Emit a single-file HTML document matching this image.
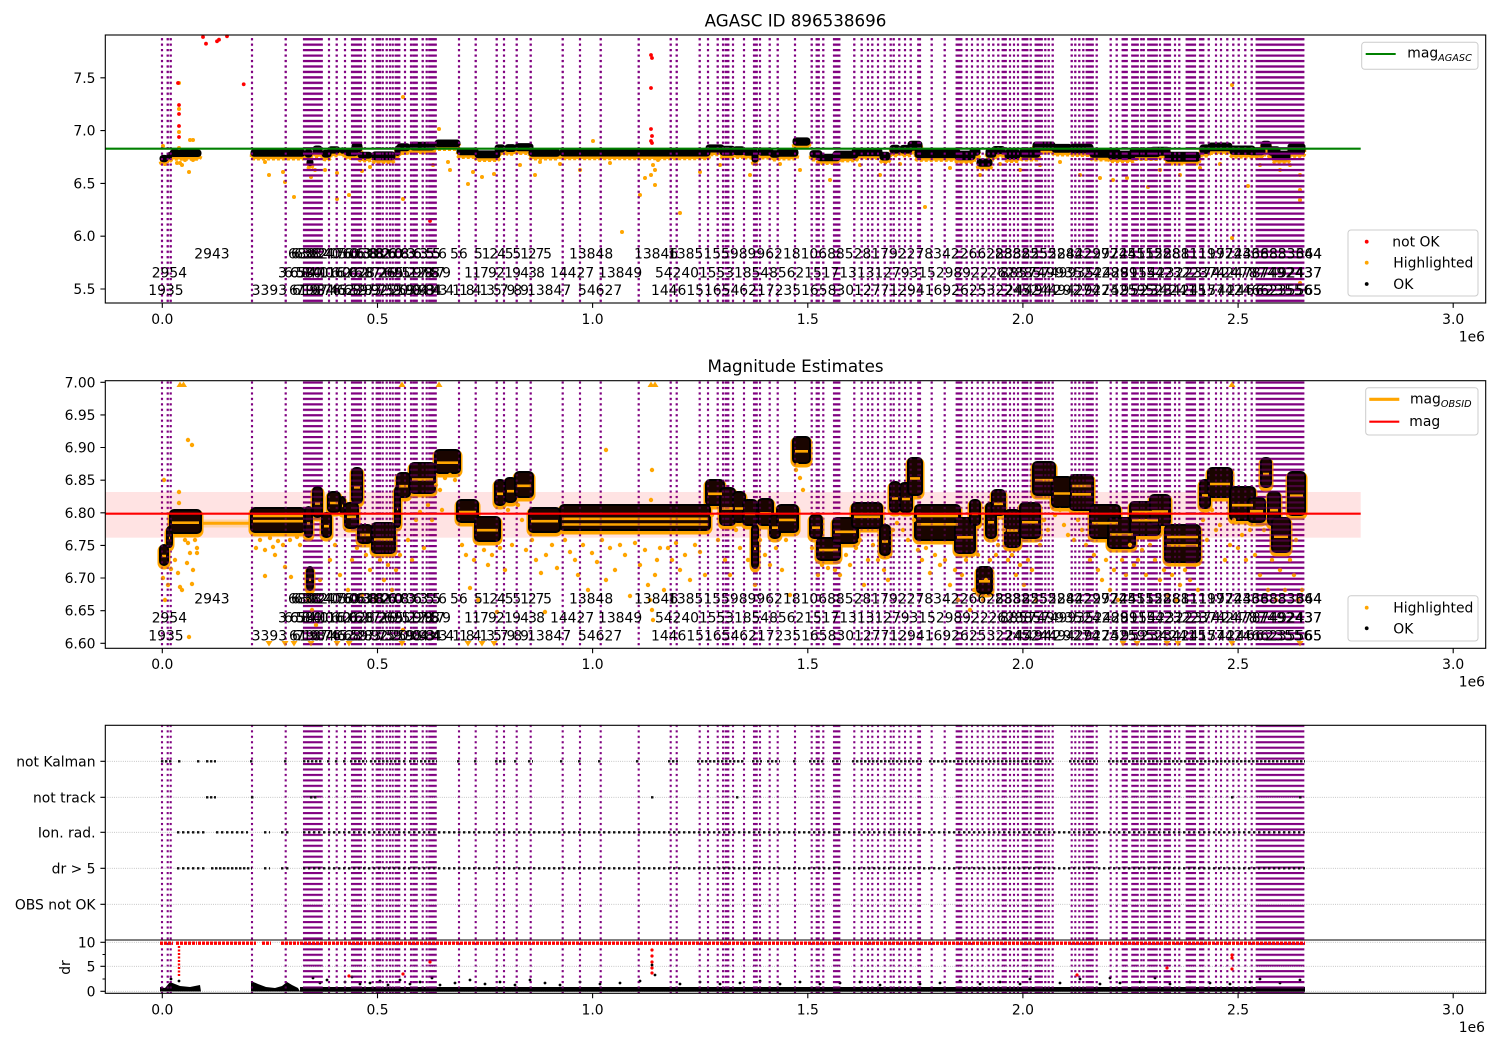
<!DOCTYPE html>
<html><head><meta charset="utf-8"><style>
html,body{margin:0;padding:0;background:#fff}
svg{display:block}
text{font-family:"DejaVu Sans","Liberation Sans",sans-serif;font-size:13.9px;fill:#000}
.tt{font-size:16.7px}
.sub{font-size:9.7px;font-style:italic}
#mb rect{rx:4px;ry:4px}
#tb rect{rx:3px;ry:3px}
</style></head><body>
<svg width="1500" height="1050" viewBox="0 0 1500 1050" xmlns="http://www.w3.org/2000/svg">
<defs>
<pattern id="pd" patternUnits="userSpaceOnUse" width="8" height="5.45"><rect width="8" height="2.1" fill="#800080"/></pattern>
<clipPath id="cpT"><rect x="105.3" y="35" width="1380.4" height="268"/></clipPath>
<clipPath id="cpM"><rect x="105.3" y="380.7" width="1380.4" height="267.6"/></clipPath>
<clipPath id="cpD"><rect x="105.3" y="976" width="1380.4" height="17.3"/></clipPath>
<path id="vl" d="M160.95 35h2.1V993.3h-2.1zM166.65 35h2.1V993.3h-2.1zM169.65 35h2.1V993.3h-2.1zM250.95 35h2.1V993.3h-2.1zM284.65 35h2.1V993.3h-2.1zM327.95 35h2.1V993.3h-2.1zM335.65 35h2.1V993.3h-2.1zM343.95 35h2.1V993.3h-2.1zM363.95 35h2.1V993.3h-2.1zM371.65 35h2.1V993.3h-2.1zM381.65 35h2.1V993.3h-2.1zM385.65 35h2.1V993.3h-2.1zM388.95 35h2.1V993.3h-2.1zM391.65 35h2.1V993.3h-2.1zM403.95 35h2.1V993.3h-2.1zM409.95 35h2.1V993.3h-2.1zM421.65 35h2.1V993.3h-2.1zM425.65 35h2.1V993.3h-2.1zM457.95 35h2.1V993.3h-2.1zM474.65 35h2.1V993.3h-2.1zM495.65 35h2.1V993.3h-2.1zM502.95 35h2.1V993.3h-2.1zM515.65 35h2.1V993.3h-2.1zM529.65 35h2.1V993.3h-2.1zM561.65 35h2.1V993.3h-2.1zM578.95 35h2.1V993.3h-2.1zM599.65 35h2.1V993.3h-2.1zM637.65 35h2.1V993.3h-2.1zM669.65 35h2.1V993.3h-2.1zM675.65 35h2.1V993.3h-2.1zM698.65 35h2.1V993.3h-2.1zM706.95 35h2.1V993.3h-2.1zM716.65 35h2.1V993.3h-2.1zM721.95 35h2.1V993.3h-2.1zM731.95 35h2.1V993.3h-2.1zM742.95 35h2.1V993.3h-2.1zM758.95 35h2.1V993.3h-2.1zM768.65 35h2.1V993.3h-2.1zM776.65 35h2.1V993.3h-2.1zM793.95 35h2.1V993.3h-2.1zM810.65 35h2.1V993.3h-2.1zM822.25 35h2.1V993.3h-2.1zM853.25 35h2.1V993.3h-2.1zM860.65 35h2.1V993.3h-2.1zM866.95 35h2.1V993.3h-2.1zM871.25 35h2.1V993.3h-2.1zM876.95 35h2.1V993.3h-2.1zM883.65 35h2.1V993.3h-2.1zM889.65 35h2.1V993.3h-2.1zM892.65 35h2.1V993.3h-2.1zM898.25 35h2.1V993.3h-2.1zM903.95 35h2.1V993.3h-2.1zM909.65 35h2.1V993.3h-2.1zM930.65 35h2.1V993.3h-2.1zM943.65 35h2.1V993.3h-2.1zM965.65 35h2.1V993.3h-2.1zM970.95 35h2.1V993.3h-2.1zM976.65 35h2.1V993.3h-2.1zM981.65 35h2.1V993.3h-2.1zM987.65 35h2.1V993.3h-2.1zM992.25 35h2.1V993.3h-2.1zM997.25 35h2.1V993.3h-2.1zM1008.95 35h2.1V993.3h-2.1zM1012.95 35h2.1V993.3h-2.1zM1016.95 35h2.1V993.3h-2.1zM1029.65 35h2.1V993.3h-2.1zM1040.65 35h2.1V993.3h-2.1zM1044.25 35h2.1V993.3h-2.1zM1047.65 35h2.1V993.3h-2.1zM1051.65 35h2.1V993.3h-2.1zM1070.65 35h2.1V993.3h-2.1zM1074.25 35h2.1V993.3h-2.1zM1078.25 35h2.1V993.3h-2.1zM1082.25 35h2.1V993.3h-2.1zM1095.65 35h2.1V993.3h-2.1zM1109.65 35h2.1V993.3h-2.1zM1115.65 35h2.1V993.3h-2.1zM1140.25 35h2.1V993.3h-2.1zM1142.65 35h2.1V993.3h-2.1zM1158.95 35h2.1V993.3h-2.1zM1173.95 35h2.1V993.3h-2.1zM1178.25 35h2.1V993.3h-2.1zM1207.65 35h2.1V993.3h-2.1zM1214.95 35h2.1V993.3h-2.1zM1219.95 35h2.1V993.3h-2.1zM1226.25 35h2.1V993.3h-2.1zM1232.25 35h2.1V993.3h-2.1zM1237.65 35h2.1V993.3h-2.1zM1244.25 35h2.1V993.3h-2.1zM1250.65 35h2.1V993.3h-2.1z
M302.95 35H322.75V993.3H302.95zM350.95 35H362.05V993.3H350.95zM375.65 35H381.05V993.3H375.65zM394.65 35H400.35V993.3H394.65zM412.25 35H417.75V993.3H412.25zM428.25 35H436.75V993.3H428.25zM724.65 35H729.35V993.3H724.65zM752.95 35H757.75V993.3H752.95zM815.65 35H819.75V993.3H815.65zM832.95 35H840.35V993.3H832.95zM917.25 35H921.05V993.3H917.25zM955.65 35H962.35V993.3H955.65zM1001.65 35H1006.75V993.3H1001.65zM1021.65 35H1028.35V993.3H1021.65zM1034.65 35H1041.05V993.3H1034.65zM1085.65 35H1093.75V993.3H1085.65zM1121.65 35H1127.75V993.3H1121.65zM1131.25 35H1138.75V993.3H1131.25zM1147.25 35H1157.75V993.3H1147.25zM1163.65 35H1171.05V993.3H1163.65zM1185.65 35H1196.05V993.3H1185.65zM1198.95 35H1204.35V993.3H1198.95zM1255.65 35H1304.35V993.3H1255.65z"/>
<g id="mb">
<rect x="160" y="545" width="8" height="20"/><rect x="167" y="527" width="5" height="20"/><rect x="170" y="510" width="31" height="23"/>
<rect x="251" y="508" width="54" height="24"/><rect x="305" y="507" width="7" height="30"/><rect x="307" y="567" width="6" height="23"/>
<rect x="313" y="487" width="9" height="30"/><rect x="322" y="513" width="9" height="24"/><rect x="328" y="492" width="12" height="20"/>
<rect x="340" y="497" width="5" height="16"/><rect x="345" y="503" width="13" height="25"/><rect x="352" y="468" width="10" height="35"/>
<rect x="358" y="525" width="14" height="18"/><rect x="372" y="523" width="23" height="30"/><rect x="395" y="487" width="5" height="40"/>
<rect x="397" y="473" width="13" height="24"/><rect x="410" y="463" width="25" height="30"/><rect x="435" y="450" width="25" height="23"/>
<rect x="457" y="500" width="21" height="22"/><rect x="475" y="517" width="25" height="24"/><rect x="495" y="480" width="10" height="25"/>
<rect x="505" y="478" width="11" height="24"/><rect x="515" y="472" width="18" height="25"/><rect x="529" y="508" width="31" height="24"/>
<rect x="560" y="505" width="150" height="25"/><rect x="706" y="480" width="18" height="25"/><rect x="720" y="488" width="15" height="37"/>
<rect x="733" y="492" width="12" height="30"/><rect x="743" y="500" width="14" height="25"/><rect x="752" y="525" width="6" height="43"/>
<rect x="758" y="499" width="15" height="26"/><rect x="770" y="515" width="10" height="23"/><rect x="777" y="505" width="21" height="27"/>
<rect x="793" y="437" width="17" height="26"/><rect x="810" y="515" width="12" height="23"/><rect x="817" y="538" width="23" height="22"/>
<rect x="833" y="518" width="25" height="25"/><rect x="852" y="503" width="30" height="25"/><rect x="880" y="525" width="10" height="30"/>
<rect x="890" y="482" width="10" height="30"/><rect x="900" y="483" width="12" height="29"/><rect x="908" y="458" width="14" height="37"/>
<rect x="915" y="505" width="45" height="35"/><rect x="955" y="518" width="20" height="35"/><rect x="970" y="500" width="10" height="25"/>
<rect x="977" y="567" width="15" height="26"/><rect x="986" y="503" width="10" height="35"/><rect x="992" y="490" width="13" height="25"/>
<rect x="1005" y="510" width="15" height="37"/><rect x="1020" y="503" width="20" height="35"/><rect x="1033" y="462" width="22" height="33"/>
<rect x="1052" y="477" width="20" height="30"/><rect x="1070" y="475" width="23" height="35"/><rect x="1090" y="505" width="30" height="33"/>
<rect x="1108" y="518" width="27" height="30"/><rect x="1130" y="502" width="30" height="33"/><rect x="1150" y="495" width="20" height="30"/>
<rect x="1165" y="525" width="35" height="37"/><rect x="1200" y="480" width="10" height="28"/><rect x="1208" y="468" width="24" height="29"/>
<rect x="1230" y="487" width="25" height="33"/><rect x="1248" y="498" width="17" height="24"/><rect x="1261" y="458" width="10" height="29"/>
<rect x="1268" y="492" width="12" height="33"/><rect x="1272" y="518" width="18" height="34"/><rect x="1288" y="472" width="17" height="43"/>
</g>
<g id="tb">
<rect x="160" y="155.4" width="8" height="6.3"/><rect x="167" y="152.5" width="5" height="6.2"/><rect x="170" y="149.8" width="31" height="6.7"/>
<rect x="251" y="149.5" width="54" height="6.8"/><rect x="305" y="149.3" width="7" height="7.8"/><rect x="307" y="159" width="6" height="6.7"/>
<rect x="313" y="146" width="9" height="7.9"/><rect x="322" y="150.2" width="9" height="6.9"/><rect x="328" y="146.8" width="12" height="6.3"/>
<rect x="340" y="147.7" width="5" height="5.5"/><rect x="345" y="148.6" width="13" height="7.1"/><rect x="352" y="143" width="10" height="8.6"/>
<rect x="358" y="152.2" width="14" height="5.9"/><rect x="372" y="151.9" width="23" height="7.8"/><rect x="395" y="146" width="5" height="9.5"/>
<rect x="397" y="143.8" width="13" height="6.9"/><rect x="410" y="142.2" width="25" height="7.8"/><rect x="435" y="140" width="25" height="6.8"/>
<rect x="457" y="148.1" width="21" height="6.6"/><rect x="475" y="150.9" width="25" height="6.9"/><rect x="495" y="144.9" width="10" height="7.1"/>
<rect x="505" y="144.6" width="11" height="6.9"/><rect x="515" y="143.6" width="18" height="7.1"/><rect x="529" y="149.5" width="31" height="6.8"/>
<rect x="560" y="149" width="150" height="7"/><rect x="706" y="144.9" width="18" height="7.1"/><rect x="720" y="146.2" width="15" height="9"/>
<rect x="733" y="146.8" width="12" height="7.9"/><rect x="743" y="148.1" width="14" height="7.1"/><rect x="752" y="152.2" width="6" height="9.9"/>
<rect x="758" y="148" width="15" height="7.2"/><rect x="770" y="150.6" width="10" height="6.7"/><rect x="777" y="149" width="21" height="7.3"/>
<rect x="793" y="137.9" width="17" height="7.3"/><rect x="810" y="150.6" width="12" height="6.7"/><rect x="817" y="154.3" width="23" height="6.5"/>
<rect x="833" y="151.1" width="25" height="7"/><rect x="852" y="148.6" width="30" height="7.1"/><rect x="880" y="152.2" width="10" height="7.8"/>
<rect x="890" y="145.2" width="10" height="7.9"/><rect x="900" y="145.4" width="12" height="7.7"/><rect x="908" y="141.3" width="14" height="9"/>
<rect x="915" y="149" width="45" height="8.6"/><rect x="955" y="151.1" width="20" height="8.6"/><rect x="970" y="148.1" width="10" height="7.1"/>
<rect x="977" y="159" width="15" height="7.2"/><rect x="986" y="148.6" width="10" height="8.7"/><rect x="992" y="146.5" width="13" height="7.1"/>
<rect x="1005" y="149.8" width="15" height="8.9"/><rect x="1020" y="148.6" width="20" height="8.7"/><rect x="1033" y="142" width="22" height="8.3"/>
<rect x="1052" y="144.4" width="20" height="7.9"/><rect x="1070" y="144.1" width="23" height="8.7"/><rect x="1090" y="149" width="30" height="8.3"/>
<rect x="1108" y="151.1" width="27" height="7.8"/><rect x="1130" y="148.4" width="30" height="8.4"/><rect x="1150" y="147.3" width="20" height="7.9"/>
<rect x="1165" y="152.2" width="35" height="9"/><rect x="1200" y="144.9" width="10" height="8.5"/><rect x="1208" y="143" width="24" height="7.7"/>
<rect x="1230" y="146" width="25" height="8.4"/><rect x="1248" y="147.8" width="17" height="6.9"/><rect x="1261" y="141.3" width="10" height="7.7"/>
<rect x="1268" y="146.8" width="12" height="8.4"/><rect x="1272" y="151.1" width="18" height="8.5"/><rect x="1288" y="143.6" width="17" height="10"/>
</g>
</defs>

<rect width="1500" height="1050" fill="#fff"/>

<!-- purple vertical dotted lines (base layer) -->
<use href="#vl" fill="url(#pd)"/>

<!-- gaps between panels -->
<rect x="100" y="303.6" width="1390" height="76.6" fill="#fff"/>
<rect x="100" y="648.8" width="1390" height="76" fill="#fff"/>

<!-- ============ TOP PANEL DATA ============ -->
<use href="#tb" fill="#FFA500" stroke="#FFA500" stroke-width="2.5" stroke-dasharray="3 2" transform="translate(0,3)"/>
<use href="#tb" fill="#000" stroke="#000" stroke-width="1"/>
<g fill="#FFA500">
<circle cx="163" cy="146" r="2"/><circle cx="177" cy="163" r="2"/><circle cx="180" cy="163" r="2"/><circle cx="179" cy="83" r="2"/><circle cx="179" cy="109" r="2"/><circle cx="179" cy="132" r="2"/><circle cx="179" cy="148" r="2"/><circle cx="190" cy="140" r="2"/><circle cx="193" cy="140" r="2"/><circle cx="189" cy="172" r="2"/><circle cx="185" cy="160" r="2"/><circle cx="182" cy="165" r="2"/><circle cx="193" cy="160" r="2"/><circle cx="265" cy="162" r="2"/><circle cx="269" cy="175" r="2"/><circle cx="283" cy="172" r="2"/><circle cx="285" cy="182" r="2"/><circle cx="294" cy="197" r="2"/><circle cx="311" cy="177" r="2"/><circle cx="315" cy="170" r="2"/><circle cx="325" cy="170" r="2"/><circle cx="337" cy="173" r="2"/><circle cx="337" cy="199" r="2"/><circle cx="349" cy="195" r="2"/><circle cx="362" cy="171" r="2"/><circle cx="370" cy="167" r="2"/><circle cx="403" cy="97" r="2"/><circle cx="403" cy="199" r="2"/><circle cx="439" cy="129" r="2"/><circle cx="448" cy="162" r="2"/><circle cx="468" cy="184" r="2"/><circle cx="473" cy="172" r="2"/><circle cx="482" cy="177" r="2"/><circle cx="494" cy="174" r="2"/><circle cx="433" cy="165" r="2"/><circle cx="450" cy="170" r="2"/><circle cx="593" cy="141" r="2"/><circle cx="622" cy="232" r="2"/><circle cx="645" cy="178" r="2"/><circle cx="655" cy="185" r="2"/><circle cx="680" cy="213" r="2"/><circle cx="520" cy="165" r="2"/><circle cx="540" cy="162" r="2"/><circle cx="560" cy="164" r="2"/><circle cx="580" cy="170" r="2"/><circle cx="610" cy="163" r="2"/><circle cx="700" cy="172" r="2"/><circle cx="720" cy="165" r="2"/><circle cx="750" cy="175" r="2"/><circle cx="780" cy="164" r="2"/><circle cx="800" cy="170" r="2"/><circle cx="830" cy="180" r="2"/><circle cx="860" cy="165" r="2"/><circle cx="880" cy="175" r="2"/><circle cx="900" cy="164" r="2"/><circle cx="925" cy="207" r="2"/><circle cx="950" cy="168" r="2"/><circle cx="980" cy="175" r="2"/><circle cx="1000" cy="164" r="2"/><circle cx="1020" cy="170" r="2"/><circle cx="1040" cy="165" r="2"/><circle cx="1060" cy="162" r="2"/><circle cx="1080" cy="175" r="2"/><circle cx="1100" cy="178" r="2"/><circle cx="1113" cy="180" r="2"/><circle cx="1127" cy="178" r="2"/><circle cx="1148" cy="187" r="2"/><circle cx="1160" cy="170" r="2"/><circle cx="1180" cy="175" r="2"/><circle cx="1200" cy="168" r="2"/><circle cx="1220" cy="164" r="2"/><circle cx="1232" cy="85" r="2"/><circle cx="1232" cy="238" r="2"/><circle cx="1248" cy="186" r="2"/><circle cx="1260" cy="165" r="2"/><circle cx="1280" cy="170" r="2"/><circle cx="1300" cy="175" r="2"/><circle cx="1300" cy="190" r="2"/><circle cx="1300" cy="200" r="2"/><circle cx="1300" cy="283" r="2"/><circle cx="1290" cy="165" r="2"/>
<circle cx="653" cy="165" r="2"/><circle cx="655" cy="170" r="2"/><circle cx="651" cy="175" r="2"/><circle cx="658" cy="160" r="2"/><circle cx="535" cy="175" r="2"/><circle cx="640" cy="195" r="2"/>
</g>
<g fill="#FF0000">
<circle cx="178" cy="83" r="1.9"/><circle cx="179" cy="105" r="1.9"/><circle cx="179" cy="114" r="1.9"/><circle cx="179" cy="126" r="1.9"/><circle cx="179" cy="137" r="1.9"/><circle cx="203" cy="37" r="1.9"/><circle cx="206" cy="43.7" r="1.9"/><circle cx="217" cy="41.3" r="1.9"/><circle cx="219" cy="39.7" r="1.9"/><circle cx="227" cy="36.3" r="1.9"/><circle cx="243.7" cy="84.3" r="1.9"/><circle cx="430" cy="221" r="1.9"/><circle cx="651" cy="55" r="1.9"/><circle cx="652" cy="58" r="1.9"/><circle cx="651" cy="88" r="1.9"/><circle cx="651" cy="129" r="1.9"/><circle cx="652" cy="136" r="1.9"/><circle cx="651" cy="141" r="1.9"/><circle cx="652" cy="143" r="1.9"/>
</g>
<use href="#vl" fill="url(#pd)" clip-path="url(#cpT)"/>
<line x1="105.3" y1="148.7" x2="1360.7" y2="148.7" stroke="#008000" stroke-width="2.1"/>

<!-- ============ MIDDLE PANEL DATA ============ -->
<rect x="105.3" y="492" width="1255.4" height="45.7" fill="rgba(255,0,0,0.11)"/>
<rect x="201" y="519.5" width="51" height="8" fill="rgba(255,165,0,0.25)"/>
<line x1="201" y1="523.3" x2="252" y2="523.3" stroke="#FFA500" stroke-width="3"/>
<use href="#mb" fill="#FFA500" stroke="#FFA500" stroke-width="5" transform="translate(0,2)"/>
<use href="#mb" fill="#1a0500" stroke="#000" stroke-width="2"/>
<path fill="none" stroke="#FFA500" stroke-width="2.6" d="M162 556H166M169 538H170M172 522.7H199M253 521.2H303M253 516H303M307 523.5H310M309 579.7H311M315 503.5H320M324 526.2H329M330 503H338M342 505.8H343M347 516.8H356M354 487.3H360M360 534.9H370M374 539.5H393M397 509H398M399 486.2H408M412 479.5H433M437 462.7H458M459 512.1H476M477 530.2H498M497 493.8H503M507 491.2H514M517 485.8H531M531 521.2H558M562 518.8H708M562 524.5H708M708 493.8H722M722 508.4H733M735 508.5H743M745 513.8H755M754 548.7H756M760 513.3H771M772 527.7H778M779 519.9H796M795 451.3H808M812 527.7H820M819 550.1H838M835 531.8H856M854 516.8H880M882 541.5H888M892 498.5H898M902 499H910M910 478.4H920M917 524.3H958M917 516H958M957 537.3H973M972 513.8H978M979 581.3H990M988 522.3H994M994 503.8H1003M1007 530.4H1018M1022 522.3H1038M1035 480.2H1053M1054 493.5H1070M1072 494.3H1091M1072 486H1091M1092 523.2H1118M1110 534.5H1133M1132 520.2H1158M1132 512H1158M1152 511.5H1168M1167 545.4H1198M1167 537H1198M1202 495.4H1208M1210 484H1230M1232 505.2H1253M1250 511.2H1263M1263 474H1269M1270 510.2H1278M1274 536.7H1288M1290 495.7H1303"/>
<g fill="#FFA500">
<circle cx="163" cy="578" r="2.2"/><circle cx="168" cy="585" r="2.2"/><circle cx="171" cy="569" r="2.2"/><circle cx="178" cy="573" r="2.2"/><circle cx="180" cy="587" r="2.2"/><circle cx="182" cy="590" r="2.2"/><circle cx="179" cy="503" r="2.2"/><circle cx="179" cy="492" r="2.2"/><circle cx="188" cy="543" r="2.2"/><circle cx="190" cy="553" r="2.2"/><circle cx="192" cy="584" r="2.2"/><circle cx="188" cy="440" r="2.2"/><circle cx="192" cy="445" r="2.2"/><circle cx="187" cy="563" r="2.2"/><circle cx="193" cy="570" r="2.2"/><circle cx="197" cy="548" r="2.2"/><circle cx="197" cy="553" r="2.2"/><circle cx="189" cy="637" r="2.2"/><circle cx="175" cy="560" r="2.2"/><circle cx="185" cy="540" r="2.2"/><circle cx="195" cy="540" r="2.2"/><circle cx="165" cy="600" r="2.2"/><circle cx="164" cy="480" r="2.2"/>
<circle cx="256" cy="548" r="2.2"/><circle cx="265" cy="550" r="2.2"/><circle cx="273" cy="547" r="2.2"/><circle cx="283" cy="545" r="2.2"/><circle cx="285" cy="567" r="2.2"/><circle cx="291" cy="577" r="2.2"/><circle cx="265" cy="576" r="2.2"/><circle cx="297" cy="537" r="2.2"/><circle cx="260" cy="540" r="2.2"/><circle cx="270" cy="538" r="2.2"/><circle cx="278" cy="541" r="2.2"/><circle cx="290" cy="540" r="2.2"/><circle cx="300" cy="545" r="2.2"/><circle cx="275" cy="555" r="2.2"/>
<circle cx="308" cy="600" r="2.2"/><circle cx="312" cy="610" r="2.2"/><circle cx="316" cy="625" r="2.2"/><circle cx="320" cy="580" r="2.2"/><circle cx="330" cy="560" r="2.2"/><circle cx="335" cy="545" r="2.2"/><circle cx="340" cy="575" r="2.2"/><circle cx="348" cy="590" r="2.2"/><circle cx="352" cy="560" r="2.2"/><circle cx="357" cy="548" r="2.2"/><circle cx="362" cy="595" r="2.2"/><circle cx="366" cy="555" r="2.2"/><circle cx="370" cy="570" r="2.2"/><circle cx="376" cy="600" r="2.2"/><circle cx="380" cy="560" r="2.2"/><circle cx="384" cy="580" r="2.2"/><circle cx="388" cy="565" r="2.2"/><circle cx="392" cy="590" r="2.2"/><circle cx="396" cy="570" r="2.2"/><circle cx="400" cy="555" r="2.2"/><circle cx="403" cy="630" r="2.2"/><circle cx="408" cy="540" r="2.2"/><circle cx="412" cy="560" r="2.2"/><circle cx="416" cy="520" r="2.2"/><circle cx="420" cy="512" r="2.2"/><circle cx="424" cy="548" r="2.2"/><circle cx="428" cy="505" r="2.2"/><circle cx="432" cy="520" r="2.2"/><circle cx="436" cy="485" r="2.2"/><circle cx="440" cy="490" r="2.2"/><circle cx="445" cy="478" r="2.2"/><circle cx="450" cy="475" r="2.2"/><circle cx="455" cy="480" r="2.2"/><circle cx="442" cy="510" r="2.2"/>
<circle cx="462" cy="545" r="2.2"/><circle cx="466" cy="555" r="2.2"/><circle cx="470" cy="588" r="2.2"/><circle cx="474" cy="560" r="2.2"/><circle cx="478" cy="600" r="2.2"/><circle cx="484" cy="550" r="2.2"/><circle cx="488" cy="565" r="2.2"/><circle cx="492" cy="555" r="2.2"/><circle cx="497" cy="612" r="2.2"/><circle cx="500" cy="548" r="2.2"/><circle cx="505" cy="570" r="2.2"/><circle cx="508" cy="510" r="2.2"/><circle cx="512" cy="545" r="2.2"/><circle cx="518" cy="505" r="2.2"/><circle cx="522" cy="520" r="2.2"/><circle cx="526" cy="550" r="2.2"/><circle cx="532" cy="540" r="2.2"/><circle cx="536" cy="560" r="2.2"/><circle cx="541" cy="573" r="2.2"/><circle cx="546" cy="555" r="2.2"/><circle cx="552" cy="545" r="2.2"/><circle cx="557" cy="568" r="2.2"/><circle cx="545" cy="612" r="2.2"/>
<circle cx="565" cy="540" r="2.2"/><circle cx="570" cy="552" r="2.2"/><circle cx="575" cy="560" r="2.2"/><circle cx="578" cy="575" r="2.2"/><circle cx="583" cy="545" r="2.2"/><circle cx="588" cy="590" r="2.2"/><circle cx="592" cy="553" r="2.2"/><circle cx="597" cy="562" r="2.2"/><circle cx="602" cy="540" r="2.2"/><circle cx="606" cy="580" r="2.2"/><circle cx="610" cy="548" r="2.2"/><circle cx="615" cy="570" r="2.2"/><circle cx="620" cy="545" r="2.2"/><circle cx="625" cy="555" r="2.2"/><circle cx="630" cy="596" r="2.2"/><circle cx="635" cy="543" r="2.2"/><circle cx="640" cy="565" r="2.2"/><circle cx="645" cy="550" r="2.2"/><circle cx="648" cy="585" r="2.2"/><circle cx="650" cy="600" r="2.2"/><circle cx="652" cy="610" r="2.2"/><circle cx="653" cy="620" r="2.2"/><circle cx="655" cy="575" r="2.2"/><circle cx="657" cy="560" r="2.2"/><circle cx="660" cy="548" r="2.2"/><circle cx="664" cy="590" r="2.2"/><circle cx="668" cy="548" r="2.2"/><circle cx="672" cy="560" r="2.2"/><circle cx="676" cy="543" r="2.2"/><circle cx="680" cy="570" r="2.2"/><circle cx="685" cy="555" r="2.2"/><circle cx="690" cy="580" r="2.2"/><circle cx="695" cy="545" r="2.2"/><circle cx="700" cy="552" r="2.2"/><circle cx="705" cy="575" r="2.2"/><circle cx="606" cy="450" r="2.2"/><circle cx="652" cy="470" r="2.2"/><circle cx="651" cy="500" r="2.2"/>
<circle cx="712" cy="515" r="2.2"/><circle cx="718" cy="540" r="2.2"/><circle cx="725" cy="560" r="2.2"/><circle cx="730" cy="575" r="2.2"/><circle cx="736" cy="530" r="2.2"/><circle cx="740" cy="548" r="2.2"/><circle cx="748" cy="560" r="2.2"/><circle cx="755" cy="585" r="2.2"/><circle cx="760" cy="540" r="2.2"/><circle cx="765" cy="555" r="2.2"/><circle cx="770" cy="565" r="2.2"/><circle cx="776" cy="548" r="2.2"/><circle cx="782" cy="570" r="2.2"/><circle cx="786" cy="540" r="2.2"/><circle cx="790" cy="595" r="2.2"/><circle cx="796" cy="470" r="2.2"/><circle cx="800" cy="478" r="2.2"/><circle cx="803" cy="490" r="2.2"/><circle cx="797" cy="465" r="2.2"/>
<circle cx="812" cy="548" r="2.2"/><circle cx="818" cy="575" r="2.2"/><circle cx="822" cy="565" r="2.2"/><circle cx="828" cy="568" r="2.2"/><circle cx="835" cy="570" r="2.2"/><circle cx="840" cy="575" r="2.2"/><circle cx="846" cy="555" r="2.2"/><circle cx="850" cy="565" r="2.2"/><circle cx="856" cy="548" r="2.2"/><circle cx="860" cy="540" r="2.2"/><circle cx="864" cy="585" r="2.2"/><circle cx="868" cy="560" r="2.2"/><circle cx="873" cy="545" r="2.2"/><circle cx="878" cy="560" r="2.2"/><circle cx="884" cy="570" r="2.2"/><circle cx="888" cy="580" r="2.2"/><circle cx="893" cy="530" r="2.2"/><circle cx="897" cy="523" r="2.2"/>
<circle cx="903" cy="530" r="2.2"/><circle cx="908" cy="540" r="2.2"/><circle cx="914" cy="520" r="2.2"/><circle cx="918" cy="550" r="2.2"/><circle cx="922" cy="560" r="2.2"/><circle cx="926" cy="548" r="2.2"/><circle cx="930" cy="573" r="2.2"/><circle cx="935" cy="555" r="2.2"/><circle cx="940" cy="565" r="2.2"/><circle cx="945" cy="560" r="2.2"/><circle cx="950" cy="585" r="2.2"/><circle cx="955" cy="570" r="2.2"/><circle cx="958" cy="600" r="2.2"/><circle cx="962" cy="575" r="2.2"/><circle cx="966" cy="560" r="2.2"/><circle cx="970" cy="610" r="2.2"/><circle cx="974" cy="590" r="2.2"/><circle cx="978" cy="555" r="2.2"/><circle cx="983" cy="600" r="2.2"/><circle cx="986" cy="580" r="2.2"/><circle cx="990" cy="560" r="2.2"/><circle cx="996" cy="555" r="2.2"/><circle cx="998" cy="545" r="2.2"/>
<circle cx="1004" cy="530" r="2.2"/><circle cx="1008" cy="560" r="2.2"/><circle cx="1012" cy="555" r="2.2"/><circle cx="1016" cy="575" r="2.2"/><circle cx="1020" cy="565" r="2.2"/><circle cx="1024" cy="585" r="2.2"/><circle cx="1028" cy="560" r="2.2"/><circle cx="1032" cy="570" r="2.2"/><circle cx="1036" cy="600" r="2.2"/><circle cx="1040" cy="545" r="2.2"/><circle cx="1044" cy="520" r="2.2"/><circle cx="1048" cy="530" r="2.2"/><circle cx="1055" cy="515" r="2.2"/><circle cx="1060" cy="510" r="2.2"/><circle cx="1064" cy="525" r="2.2"/><circle cx="1068" cy="535" r="2.2"/><circle cx="1074" cy="540" r="2.2"/><circle cx="1078" cy="520" r="2.2"/><circle cx="1082" cy="530" r="2.2"/><circle cx="1086" cy="545" r="2.2"/><circle cx="1090" cy="560" r="2.2"/><circle cx="1094" cy="555" r="2.2"/><circle cx="1098" cy="570" r="2.2"/><circle cx="1102" cy="580" r="2.2"/><circle cx="1106" cy="560" r="2.2"/><circle cx="1110" cy="590" r="2.2"/><circle cx="1114" cy="570" r="2.2"/><circle cx="1118" cy="600" r="2.2"/>
<circle cx="1122" cy="560" r="2.2"/><circle cx="1126" cy="575" r="2.2"/><circle cx="1130" cy="545" r="2.2"/><circle cx="1134" cy="565" r="2.2"/><circle cx="1138" cy="560" r="2.2"/><circle cx="1142" cy="550" r="2.2"/><circle cx="1146" cy="575" r="2.2"/><circle cx="1150" cy="545" r="2.2"/><circle cx="1155" cy="560" r="2.2"/><circle cx="1160" cy="580" r="2.2"/><circle cx="1164" cy="570" r="2.2"/><circle cx="1168" cy="595" r="2.2"/><circle cx="1172" cy="575" r="2.2"/><circle cx="1176" cy="600" r="2.2"/><circle cx="1180" cy="585" r="2.2"/><circle cx="1185" cy="570" r="2.2"/><circle cx="1190" cy="580" r="2.2"/><circle cx="1195" cy="565" r="2.2"/><circle cx="1198" cy="590" r="2.2"/>
<circle cx="1203" cy="520" r="2.2"/><circle cx="1207" cy="540" r="2.2"/><circle cx="1212" cy="510" r="2.2"/><circle cx="1216" cy="530" r="2.2"/><circle cx="1220" cy="525" r="2.2"/><circle cx="1225" cy="560" r="2.2"/><circle cx="1230" cy="545" r="2.2"/><circle cx="1234" cy="520" r="2.2"/><circle cx="1238" cy="548" r="2.2"/><circle cx="1242" cy="535" r="2.2"/><circle cx="1246" cy="560" r="2.2"/><circle cx="1250" cy="530" r="2.2"/><circle cx="1255" cy="555" r="2.2"/><circle cx="1260" cy="575" r="2.2"/><circle cx="1264" cy="530" r="2.2"/><circle cx="1268" cy="590" r="2.2"/><circle cx="1272" cy="560" r="2.2"/><circle cx="1276" cy="600" r="2.2"/><circle cx="1280" cy="570" r="2.2"/><circle cx="1285" cy="590" r="2.2"/><circle cx="1290" cy="560" r="2.2"/><circle cx="1294" cy="575" r="2.2"/><circle cx="1298" cy="600" r="2.2"/><circle cx="1302" cy="590" r="2.2"/><circle cx="1296" cy="540" r="2.2"/>
</g>
<path fill="#FFA500" d="M176.5 387L180 381.5L183.5 387zM180 387L183.5 381.5L187 387zM398.5 387L402 381.5L405.5 387zM435.5 387L439 381.5L442.5 387zM647.5 387L651 381.5L654.5 387zM651.5 387L655 381.5L658.5 387zM1228.5 387L1232 381.5L1235.5 387z
M265.5 641L272.5 641L269 646.5zM281.5 641L288.5 641L285 646.5zM290.5 641L297.5 641L294 646.5zM307.5 641L314.5 641L311 646.5zM333.5 641L340.5 641L337 646.5zM345.5 641L352.5 641L349 646.5zM398.5 641L405.5 641L402 646.5zM464.5 641L471.5 641L468 646.5zM478.5 641L485.5 641L482 646.5zM490.5 641L497.5 641L494 646.5zM1119.5 641L1126.5 641L1123 646.5zM1133.5 641L1140.5 641L1137 646.5zM1163.5 641L1170.5 641L1167 646.5zM1174.5 641L1181.5 641L1178 646.5zM1228.5 641L1235.5 641L1232 646.5zM1296.5 641L1303.5 641L1300 646.5z"/>
<use href="#vl" fill="url(#pd)" clip-path="url(#cpM)" opacity="0.45"/>
<line x1="105.3" y1="513.7" x2="1360.7" y2="513.7" stroke="#FF0000" stroke-width="2.1"/>

<!-- ============ BOTTOM PANEL ============ -->
<g stroke="#b0b0b0" stroke-width="0.8" stroke-dasharray="0.8 1.4">
<line x1="105.3" y1="761.3" x2="1485.7" y2="761.3"/><line x1="105.3" y1="797.3" x2="1485.7" y2="797.3"/><line x1="105.3" y1="832.3" x2="1485.7" y2="832.3"/><line x1="105.3" y1="868.3" x2="1485.7" y2="868.3"/><line x1="105.3" y1="904.3" x2="1485.7" y2="904.3"/>
<line x1="105.3" y1="942.3" x2="1485.7" y2="942.3"/><line x1="105.3" y1="966.3" x2="1485.7" y2="966.3"/><line x1="105.3" y1="991.3" x2="1485.7" y2="991.3"/>
</g>
<g fill="none" stroke="#111" stroke-width="2.4" stroke-dasharray="2.4 1.6">
<path d="M161 761.3H173M178 761.3H182M197 761.3H201M206 761.3H216M250 761.3H254M284 761.3H288M303 761.3H323M327 761.3H331M335 761.3H339M343 761.3H347M350 761.3H367M370 761.3H401M403 761.3H407M409 761.3H418M420 761.3H437M457 761.3H461M474 761.3H478M495 761.3H506M514 761.3H518M528 761.3H533M560 761.3H564M578 761.3H582M598 761.3H602M636 761.3H640M668 761.3H678M697 761.3H745M752 761.3H762M767 761.3H780M793 761.3H797M809 761.3H825M832 761.3H841M852 761.3H922M929 761.3H1053M1069 761.3H1098M1108 761.3H1305"/>
<path d="M206 797.3H216M251 797.3H254M310 797.3H317M651 797.3H654M736 797.3H740M1231 797.3H1235M1299 797.3H1302"/>
<path d="M211 868.3H252"/>
</g>
<g fill="none" stroke="#111" stroke-width="2.4" stroke-dasharray="2.4 2.6">
<path d="M177 832.3H207M216 832.3H248M264 832.3H270M281 832.3H291M303 832.3H1305"/>
<path d="M177 868.3H207M264 868.3H270M281 868.3H291M303 868.3H1305"/>
</g>
<path fill="none" stroke="#FF0000" stroke-width="3.4" stroke-dasharray="3 1" d="M160 943.2H173M176 943.2H197M198 943.2H256M262 943.2H271M281 943.2H299M300 943.2H1305"/>
<line x1="179" y1="946" x2="179" y2="977" stroke="#FF0000" stroke-width="2.4" stroke-dasharray="2 1.5"/>
<g fill="#FF0000">
<circle cx="652" cy="950" r="1.6"/><circle cx="652" cy="956" r="1.6"/><circle cx="652" cy="962" r="1.6"/><circle cx="652" cy="968" r="1.6"/><circle cx="652" cy="973" r="1.6"/><circle cx="349" cy="976" r="1.6"/><circle cx="403" cy="974" r="1.6"/><circle cx="430" cy="962" r="1.6"/><circle cx="1167" cy="968" r="1.6"/><circle cx="1232" cy="955" r="1.6"/><circle cx="1232" cy="958" r="1.6"/><circle cx="1232" cy="969" r="1.6"/><circle cx="1077" cy="975" r="1.6"/>
</g>
<path fill="#000" d="M160 991.5V987L165 988L170 982L175 984L180 986L190 987L200 985L201 991.5zM251 991.5V981L258 984L266 987L275 988L282 986L287 982L292 985L298 988L300 991.5zM300 987H1305V991.8H300z"/>
<g fill="#000">
<circle cx="313" cy="978" r="1.4"/><circle cx="320" cy="983" r="1.4"/><circle cx="327" cy="980" r="1.4"/><circle cx="345" cy="982" r="1.4"/><circle cx="352" cy="977" r="1.4"/><circle cx="360" cy="984" r="1.4"/><circle cx="370" cy="983" r="1.4"/><circle cx="380" cy="981" r="1.4"/><circle cx="388" cy="985" r="1.4"/><circle cx="400" cy="980" r="1.4"/><circle cx="410" cy="984" r="1.4"/><circle cx="420" cy="982" r="1.4"/><circle cx="432" cy="978" r="1.4"/><circle cx="440" cy="985" r="1.4"/><circle cx="455" cy="983" r="1.4"/><circle cx="470" cy="980" r="1.4"/><circle cx="485" cy="984" r="1.4"/><circle cx="500" cy="982" r="1.4"/><circle cx="515" cy="985" r="1.4"/><circle cx="530" cy="980" r="1.4"/><circle cx="545" cy="983" r="1.4"/><circle cx="560" cy="985" r="1.4"/><circle cx="580" cy="982" r="1.4"/><circle cx="600" cy="984" r="1.4"/><circle cx="620" cy="983" r="1.4"/><circle cx="640" cy="981" r="1.4"/><circle cx="652" cy="965" r="1.4"/><circle cx="655" cy="975" r="1.4"/><circle cx="680" cy="984" r="1.4"/><circle cx="700" cy="982" r="1.4"/><circle cx="720" cy="984" r="1.4"/><circle cx="740" cy="983" r="1.4"/><circle cx="760" cy="981" r="1.4"/><circle cx="780" cy="984" r="1.4"/><circle cx="800" cy="982" r="1.4"/><circle cx="820" cy="984" r="1.4"/><circle cx="840" cy="983" r="1.4"/><circle cx="860" cy="982" r="1.4"/><circle cx="880" cy="985" r="1.4"/><circle cx="900" cy="982" r="1.4"/><circle cx="920" cy="984" r="1.4"/><circle cx="940" cy="983" r="1.4"/><circle cx="960" cy="981" r="1.4"/><circle cx="980" cy="984" r="1.4"/><circle cx="1000" cy="982" r="1.4"/><circle cx="1020" cy="984" r="1.4"/><circle cx="1030" cy="979" r="1.4"/><circle cx="1060" cy="983" r="1.4"/><circle cx="1080" cy="979" r="1.4"/><circle cx="1100" cy="984" r="1.4"/><circle cx="1110" cy="978" r="1.4"/><circle cx="1120" cy="983" r="1.4"/><circle cx="1140" cy="982" r="1.4"/><circle cx="1155" cy="978" r="1.4"/><circle cx="1170" cy="984" r="1.4"/><circle cx="1190" cy="982" r="1.4"/><circle cx="1210" cy="983" r="1.4"/><circle cx="1230" cy="984" r="1.4"/><circle cx="1250" cy="982" r="1.4"/><circle cx="1260" cy="979" r="1.4"/><circle cx="1280" cy="983" r="1.4"/><circle cx="1300" cy="980" r="1.4"/><circle cx="171" cy="979" r="1.4"/><circle cx="179" cy="981" r="1.4"/>
</g>
<use href="#vl" fill="url(#pd)" clip-path="url(#cpD)" opacity="0.6"/>

<!-- ============ ANNOTATION TEXT ============ -->
<g>
<text x="194.3" y="258.3">2943</text>
<text x="288" y="258.3" textLength="159">6638824056063882608363556</text>
<text x="291" y="258.3" textLength="150">68382407606388260836355</text>
<text x="450" y="258.3">56</text>
<text x="474" y="258.3" textLength="78">5124551275</text>
<text x="569" y="258.3">13848</text>
<text x="634" y="258.3">13846</text>
<text x="668" y="258.3" textLength="654">13851559899621810688528179227834226628382552842297245152881119724368833644</text>
<text x="995" y="258.3" textLength="327">2838255284229724515288111972436883364</text>
<text x="151.7" y="277.3">2954</text>
<text x="278" y="277.3" textLength="173">36658401066206287269512978579</text>
<text x="290" y="277.3" textLength="150">65840160628726951298</text>
<text x="464" y="277.3" textLength="81">1179219438</text>
<text x="550" y="277.3">14427</text>
<text x="598" y="277.3">13849</text>
<text x="655" y="277.3" textLength="667">5424015531854856215171313127931529892226288574993524289154232237424787492437</text>
<text x="1000" y="277.3" textLength="322">88574993524289154232237424787492437</text>
<text x="148.3" y="295">1935</text>
<text x="251.7" y="295">3393</text>
<text x="289" y="295" textLength="240">67198746652897325909843411841357989</text>
<text x="292" y="295" textLength="150">6198746528973259098434</text>
<text x="527" y="295">13847</text>
<text x="578" y="295">54627</text>
<text x="651" y="295" textLength="671">1446151654621723516583012771294169262532245244942927425952342415742466235565</text>
<text x="1005" y="295" textLength="317">244942927425952342415742466235565</text>

<text x="194.3" y="603.3">2943</text>
<text x="288" y="603.3" textLength="159">6638824056063882608363556</text>
<text x="291" y="603.3" textLength="150">68382407606388260836355</text>
<text x="450" y="603.3">56</text>
<text x="474" y="603.3" textLength="78">5124551275</text>
<text x="569" y="603.3">13848</text>
<text x="634" y="603.3">13846</text>
<text x="668" y="603.3" textLength="654">13851559899621810688528179227834226628382552842297245152881119724368833644</text>
<text x="995" y="603.3" textLength="327">2838255284229724515288111972436883364</text>
<text x="151.7" y="622.5">2954</text>
<text x="278" y="622.5" textLength="173">36658401066206287269512978579</text>
<text x="290" y="622.5" textLength="150">65840160628726951298</text>
<text x="464" y="622.5" textLength="81">1179219438</text>
<text x="550" y="622.5">14427</text>
<text x="598" y="622.5">13849</text>
<text x="655" y="622.5" textLength="667">5424015531854856215171313127931529892226288574993524289154232237424787492437</text>
<text x="1000" y="622.5" textLength="322">88574993524289154232237424787492437</text>
<text x="148.3" y="640.3">1935</text>
<text x="251.7" y="640.3">3393</text>
<text x="289" y="640.3" textLength="240">67198746652897325909843411841357989</text>
<text x="292" y="640.3" textLength="150">6198746528973259098434</text>
<text x="527" y="640.3">13847</text>
<text x="578" y="640.3">54627</text>
<text x="651" y="640.3" textLength="671">1446151654621723516583012771294169262532245244942927425952342415742466235565</text>
<text x="1005" y="640.3" textLength="317">244942927425952342415742466235565</text>
</g>

<!-- ============ AXES FRAMES & TICKS ============ -->
<g fill="none" stroke="#000" stroke-width="1.1">
<rect x="105.3" y="35" width="1380.4" height="268"/>
<rect x="105.3" y="380.7" width="1380.4" height="267.6"/>
<rect x="105.3" y="725.3" width="1380.4" height="268"/>
<line x1="105.3" y1="940" x2="1485.7" y2="940"/>
<path d="M100.4 77.8H105.3M100.4 130.6H105.3M100.4 183.4H105.3M100.4 236.2H105.3M100.4 289H105.3
M162.3 303V307.9M377.5 303V307.9M592.6 303V307.9M807.8 303V307.9M1022.9 303V307.9M1238.1 303V307.9M1453.2 303V307.9
M100.4 382.3H105.3M100.4 414.9H105.3M100.4 447.5H105.3M100.4 480.2H105.3M100.4 512.8H105.3M100.4 545.4H105.3M100.4 578H105.3M100.4 610.7H105.3M100.4 643.3H105.3
M162.3 648.3V653.2M377.5 648.3V653.2M592.6 648.3V653.2M807.8 648.3V653.2M1022.9 648.3V653.2M1238.1 648.3V653.2M1453.2 648.3V653.2
M100.4 761.3H105.3M100.4 797.3H105.3M100.4 832.3H105.3M100.4 868.3H105.3M100.4 904.3H105.3
M100.4 942.3H105.3M100.4 966.3H105.3M100.4 991.3H105.3M102.5 954.5H105.3M102.5 979H105.3
M162.3 993.3V998.2M377.5 993.3V998.2M592.6 993.3V998.2M807.8 993.3V998.2M1022.9 993.3V998.2M1238.1 993.3V998.2M1453.2 993.3V998.2"/>
</g>

<!-- tick labels -->
<g text-anchor="end">
<text x="95.5" y="82.8">7.5</text><text x="95.5" y="135.6">7.0</text><text x="95.5" y="188.4">6.5</text><text x="95.5" y="241.2">6.0</text><text x="95.5" y="294">5.5</text>
<text x="95.5" y="387.3">7.00</text><text x="95.5" y="419.9">6.95</text><text x="95.5" y="452.5">6.90</text><text x="95.5" y="485.2">6.85</text><text x="95.5" y="517.8">6.80</text><text x="95.5" y="550.4">6.75</text><text x="95.5" y="583">6.70</text><text x="95.5" y="615.7">6.65</text><text x="95.5" y="648.3">6.60</text>
<text x="95.5" y="766.3">not Kalman</text><text x="95.5" y="802.3">not track</text><text x="95.5" y="837.3">Ion. rad.</text><text x="95.5" y="873.3">dr &gt; 5</text><text x="95.5" y="909.3">OBS not OK</text>
<text x="95.5" y="947.3">10</text><text x="95.5" y="971.3">5</text><text x="95.5" y="996.3">0</text>
<text x="1485" y="341.5">1e6</text><text x="1485" y="686.5">1e6</text><text x="1485" y="1032">1e6</text>
</g>
<g text-anchor="middle">
<text x="162.3" y="324">0.0</text><text x="377.5" y="324">0.5</text><text x="592.6" y="324">1.0</text><text x="807.8" y="324">1.5</text><text x="1022.9" y="324">2.0</text><text x="1238.1" y="324">2.5</text><text x="1453.2" y="324">3.0</text>
<text x="162.3" y="669">0.0</text><text x="377.5" y="669">0.5</text><text x="592.6" y="669">1.0</text><text x="807.8" y="669">1.5</text><text x="1022.9" y="669">2.0</text><text x="1238.1" y="669">2.5</text><text x="1453.2" y="669">3.0</text>
<text x="162.3" y="1014.3">0.0</text><text x="377.5" y="1014.3">0.5</text><text x="592.6" y="1014.3">1.0</text><text x="807.8" y="1014.3">1.5</text><text x="1022.9" y="1014.3">2.0</text><text x="1238.1" y="1014.3">2.5</text><text x="1453.2" y="1014.3">3.0</text>
<text class="tt" x="795.5" y="26.5">AGASC ID 896538696</text>
<text class="tt" x="795.5" y="372">Magnitude Estimates</text>
<text x="70" y="967.5" transform="rotate(-90 70 967.5)">dr</text>
</g>

<!-- ============ LEGENDS ============ -->
<g fill="rgba(255,255,255,0.8)" stroke="#cccccc" stroke-width="1">
<rect x="1361.7" y="42.3" width="116.3" height="27" rx="3"/>
<rect x="1348" y="230" width="130" height="66" rx="3"/>
<rect x="1365.7" y="387.7" width="112.3" height="47.3" rx="3"/>
<rect x="1348" y="595.7" width="130" height="45.3" rx="3"/>
</g>
<line x1="1365.7" y1="54" x2="1395.7" y2="54" stroke="#008000" stroke-width="2.1"/>
<text x="1407.3" y="57.7">mag<tspan class="sub" dy="3.5">AGASC</tspan></text>
<circle cx="1366.7" cy="241.7" r="1.9" fill="#FF0000"/>
<circle cx="1366.7" cy="262.7" r="1.9" fill="#FFA500"/>
<circle cx="1366.7" cy="284" r="1.9" fill="#000"/>
<text x="1392.3" y="246.7">not OK</text>
<text x="1393.3" y="267.7">Highlighted</text>
<text x="1393.3" y="289">OK</text>
<line x1="1369.3" y1="399.3" x2="1399.3" y2="399.3" stroke="#FFA500" stroke-width="3.2"/>
<text x="1410" y="403.5">mag<tspan class="sub" dy="3.5">OBSID</tspan></text>
<line x1="1369.3" y1="421.7" x2="1399.3" y2="421.7" stroke="#FF0000" stroke-width="2.1"/>
<text x="1409.3" y="426">mag</text>
<circle cx="1366.7" cy="607.7" r="1.9" fill="#FFA500"/>
<circle cx="1366.7" cy="628.3" r="1.9" fill="#000"/>
<text x="1393.3" y="612.7">Highlighted</text>
<text x="1393.3" y="633.3">OK</text>
</svg>
</body></html>
